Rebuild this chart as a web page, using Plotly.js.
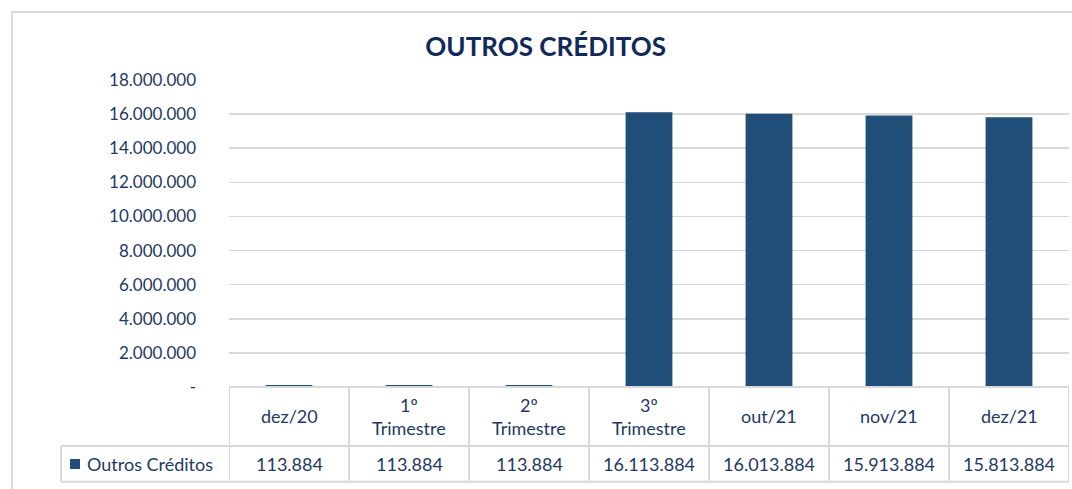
<!DOCTYPE html>
<html>
<head>
<meta charset="utf-8">
<script src="https://cdn.plot.ly/plotly-3.0.1.min.js"></script>
<style>
html,body{margin:0;padding:0;background:#fff;}
#chart{width:1072px;height:489px;}
</style>
</head>
<body>
<div id="chart"></div>
<script>
// ---- data ----
const chartTitle = 'OUTROS CRÉDITOS';
const seriesName = 'Outros Créditos';
const categories = ['dez/20', '1º Trimestre', '2º Trimestre', '3º Trimestre', 'out/21', 'nov/21', 'dez/21'];
const values = [113884, 113884, 113884, 16113884, 16013884, 15913884, 15813884];
const yTickVals = [0, 2000000, 4000000, 6000000, 8000000, 10000000, 12000000, 14000000, 16000000, 18000000];
const yTickText = ['-', '2.000.000', '4.000.000', '6.000.000', '8.000.000', '10.000.000', '12.000.000', '14.000.000', '16.000.000', '18.000.000'];

// ---- styling ----
const barColor = '#1F4E79';
const textColor = '#1f3864';
const lineColor = '#d9d9d9';
const font = 'Lato, "Open Sans", sans-serif';

function fmt(v) {
  return String(Math.round(v)).replace(/\B(?=(\d{3})+(?!\d))/g, '.');
}

// table geometry in paper coordinates (plot area = y 0..1)
const yHeaderMid = -0.0945, yRowLine = -0.192, yRowMid = -0.251, yBottom = -0.309;
const legendLeft = -0.2;

const shapes = [];
const annotations = [];
const n = categories.length;

// outer chart frame
shapes.push({type:'line', xref:'paper', yref:'paper', x0:-0.2583, x1:1.01, y0:1.2215, y1:1.2215, line:{color:lineColor, width:2}});
shapes.push({type:'line', xref:'paper', yref:'paper', x0:-0.2583, x1:-0.2583, y0:1.2215, y1:-0.36, line:{color:lineColor, width:2}});

// table horizontal lines
shapes.push({type:'line', xref:'x', yref:'paper', x0:-0.5, x1:n-0.5, y0:0, y1:0, line:{color:lineColor, width:2}});
shapes.push({type:'line', xref:'paper', yref:'paper', x0:legendLeft, x1:1, y0:yRowLine, y1:yRowLine, line:{color:lineColor, width:2}});
shapes.push({type:'line', xref:'paper', yref:'paper', x0:legendLeft, x1:1, y0:yBottom, y1:yBottom, line:{color:lineColor, width:2}});
shapes.push({type:'line', xref:'paper', yref:'paper', x0:legendLeft, x1:legendLeft, y0:yRowLine, y1:yBottom, line:{color:lineColor, width:2}});
// column separators
for (let i = 0; i <= n; i++) {
  shapes.push({type:'line', xref:'x', yref:'paper', x0:i-0.5, x1:i-0.5, y0:0, y1:yBottom, line:{color:lineColor, width:2}});
}
// legend key square
shapes.push({type:'rect', xref:'paper', yref:'paper', x0:-0.1893, x1:-0.1774, y0:-0.2345, y1:-0.2671, fillcolor:barColor, line:{width:0}});

// header and value cells
categories.forEach((c, i) => {
  annotations.push({xref:'x', yref:'paper', x:i, y:yHeaderMid, text:c.replace(' ', '<br>'), showarrow:false,
    xanchor:'center', yanchor:'middle', font:{family:font, size:18, color:textColor}});
  annotations.push({xref:'x', yref:'paper', x:i, y:yRowMid, text:fmt(values[i]), showarrow:false,
    xanchor:'center', yanchor:'middle', font:{family:font, size:18, color:textColor}});
});
annotations.push({xref:'paper', yref:'paper', x:-0.1714, y:yRowMid, text:seriesName, showarrow:false,
  xanchor:'left', yanchor:'middle', font:{family:font, size:18, color:textColor}});

const trace = {
  type:'bar', x:categories, y:values, name:seriesName,
  marker:{color:barColor, line:{width:0}}, hoverinfo:'x+y', showlegend:false
};

const layout = {
  width:1072, height:489,
  margin:{l:229, r:3, t:80, b:102},
  paper_bgcolor:'#fff', plot_bgcolor:'#fff',
  title:{text:'<b>' + chartTitle + '</b>', x:0.509, xanchor:'center', y:0.904, yanchor:'middle',
    font:{family:font, size:26, color:'#10295a'}},
  bargap:0.61,
  xaxis:{type:'category', range:[-0.5, n-0.5], showticklabels:false, showgrid:false, zeroline:false, showline:false, ticks:'', fixedrange:true},
  yaxis:{range:[0, 18000000], tickvals:yTickVals, ticktext:yTickText, showgrid:true, gridcolor:lineColor, gridwidth:1.5,
    zeroline:false, showline:false, ticks:'', ticklabelstandoff:32, fixedrange:true,
    tickfont:{family:font, size:17, color:textColor}},
  shapes:shapes, annotations:annotations, showlegend:false
};

Plotly.newPlot('chart', [trace], layout, {displayModeBar:false, staticPlot:true});
</script>
</body>
</html>
